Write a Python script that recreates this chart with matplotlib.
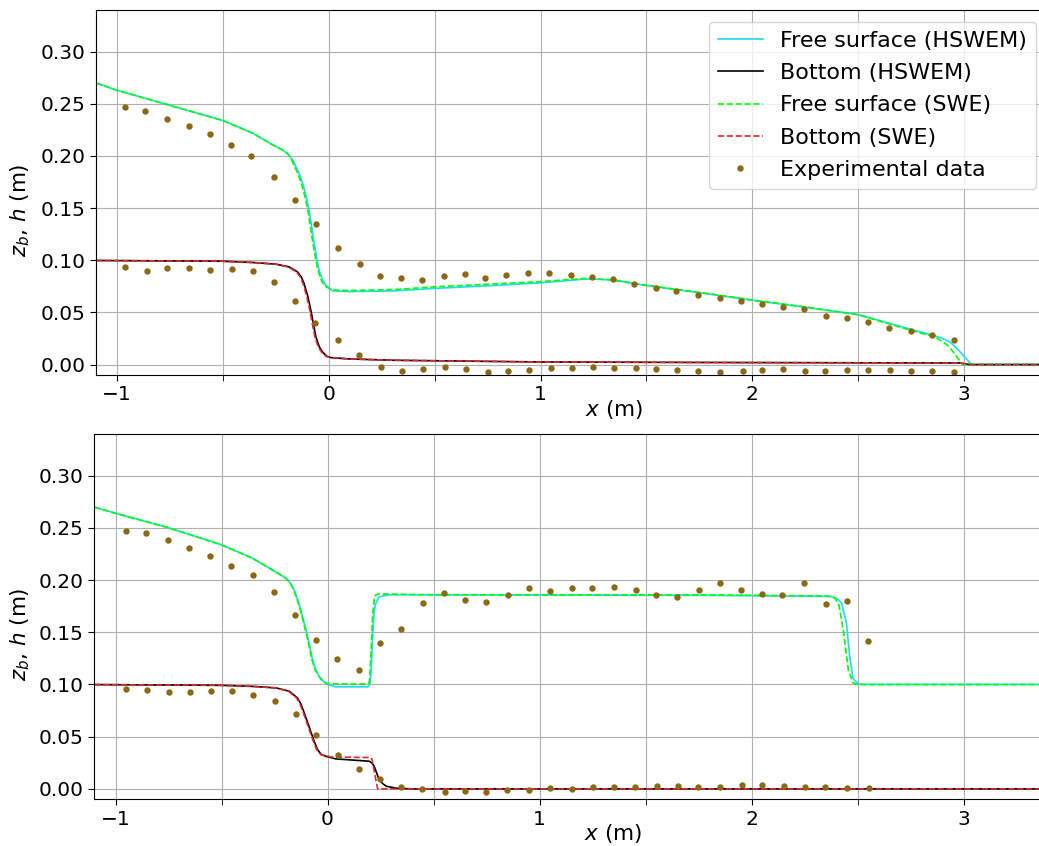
import matplotlib
matplotlib.use("Agg")
import matplotlib.pyplot as plt
from matplotlib.ticker import MultipleLocator, FormatStrFormatter

# ---- case 1: free surface / bottom profiles ----
top_hswem_eta_x = [-1.10, -1.00, -0.775, -0.50, -0.43, -0.358, -0.263, -0.22, -0.192, -0.17, -0.156, -0.14,
                   -0.124, -0.108, -0.093, -0.080, -0.069, -0.057, -0.046, -0.030, -0.014, 0.017,
                   0.096, 0.317, 0.498, 0.75, 0.997, 1.10, 1.201, 1.25, 1.343, 1.50, 1.80, 2.00,
                   2.25, 2.50, 2.697, 2.80, 2.855, 2.90, 2.934, 2.965, 2.997, 3.036, 3.36]
top_hswem_eta = [0.270, 0.263, 0.250, 0.234, 0.228, 0.2217, 0.2105, 0.206, 0.2018, 0.196, 0.190, 0.183,
                 0.174, 0.162, 0.148, 0.131, 0.116, 0.102, 0.0905, 0.081, 0.076, 0.0707,
                 0.070, 0.0707, 0.073, 0.0755, 0.0783, 0.080, 0.0819, 0.0820, 0.081, 0.0758, 0.0675, 0.0617,
                 0.055, 0.048, 0.0368, 0.031, 0.0281, 0.025, 0.0217, 0.016, 0.0089, 0.0, 0.0]

top_swe_eta_x = [-1.10, -1.00, -0.775, -0.50, -0.43, -0.358, -0.263, -0.22, -0.192, -0.175, -0.162, -0.146,
                 -0.130, -0.114, -0.099, -0.086, -0.075, -0.063, -0.051, -0.034, -0.016, 0.017,
                 0.096, 0.317, 0.498, 0.75, 0.997, 1.10, 1.201, 1.25, 1.343, 1.50, 1.80, 2.00,
                 2.25, 2.50, 2.697, 2.80, 2.855, 2.90, 2.93, 2.965, 2.99, 3.00, 3.36]
top_swe_eta = [0.270, 0.263, 0.250, 0.234, 0.228, 0.2217, 0.2105, 0.206, 0.2018, 0.196, 0.190, 0.183,
               0.174, 0.162, 0.148, 0.131, 0.116, 0.102, 0.0905, 0.080, 0.075, 0.0715,
               0.071, 0.072, 0.0745, 0.077, 0.0795, 0.081, 0.0825, 0.0822, 0.0812, 0.076, 0.0678, 0.062,
               0.0553, 0.0478, 0.0360, 0.0300, 0.0272, 0.022, 0.0175, 0.008, 0.001, 0.0, 0.0]

top_hswem_zb_x = [-1.10, -0.503, -0.361, -0.251, -0.188, -0.148, -0.13, -0.117, -0.10, -0.085,
                  -0.072, -0.061, -0.045, -0.030, -0.010, 0.009, 0.096, 0.316, 0.997, 1.80,
                  2.98, 3.03, 3.36]
top_hswem_zb = [0.0998, 0.0991, 0.0979, 0.0963, 0.0937, 0.0889, 0.084, 0.0777, 0.066, 0.0521,
                0.038, 0.0265, 0.017, 0.0121, 0.008, 0.0067, 0.0054, 0.0041, 0.0025, 0.002,
                0.0015, 0.0, 0.0]

top_swe_zb_x = [-1.10, -0.503, -0.361, -0.251, -0.193, -0.153, -0.135, -0.122, -0.105, -0.090,
                -0.077, -0.066, -0.050, -0.035, -0.014, 0.006, 0.096, 0.316, 0.997, 1.80,
                2.98, 3.03, 3.36]
top_swe_zb = [0.0998, 0.0991, 0.0979, 0.0963, 0.0937, 0.0889, 0.084, 0.0777, 0.066, 0.0521,
              0.038, 0.0265, 0.017, 0.0121, 0.008, 0.0067, 0.0054, 0.0041, 0.0025, 0.002,
              0.0015, 0.0, 0.0]

top_exp_eta_x = [-0.964, -0.868, -0.765, -0.663, -0.562, -0.460, -0.367, -0.261, -0.162, -0.060,
                 0.041, 0.146, 0.244, 0.343, 0.438, 0.545, 0.644, 0.740, 0.839, 0.943, 1.041,
                 1.144, 1.244, 1.343, 1.444, 1.545, 1.642, 1.743, 1.849, 1.946, 2.047, 2.146,
                 2.247, 2.348, 2.447, 2.547, 2.646, 2.750, 2.851, 2.955]
top_exp_eta = [0.247, 0.243, 0.235, 0.229, 0.221, 0.211, 0.200, 0.180, 0.158, 0.135,
               0.112, 0.096, 0.085, 0.0828, 0.081, 0.085, 0.0864, 0.0828, 0.086, 0.088, 0.088,
               0.086, 0.0838, 0.0819, 0.077, 0.0739, 0.071, 0.0668, 0.064, 0.061, 0.058, 0.055,
               0.053, 0.0467, 0.0451, 0.0409, 0.0348, 0.032, 0.0281, 0.024]

top_exp_zb_x = [-0.962, -0.861, -0.764, -0.661, -0.560, -0.458, -0.360, -0.261, -0.161, -0.065,
                0.044, 0.143, 0.246, 0.346, 0.444, 0.551, 0.647, 0.750, 0.846, 0.946, 1.049,
                1.148, 1.247, 1.349, 1.453, 1.546, 1.645, 1.745, 1.847, 1.955, 2.045, 2.144,
                2.250, 2.345, 2.447, 2.546, 2.651, 2.750, 2.850, 2.953]
top_exp_zb = [0.094, 0.090, 0.093, 0.093, 0.091, 0.092, 0.090, 0.079, 0.061, 0.040,
              0.024, 0.0092, -0.002, -0.006, -0.004, -0.002, -0.004, -0.007, -0.006, -0.005, -0.003,
              -0.003, -0.002, -0.003, -0.003, -0.004, -0.005, -0.006, -0.0074, -0.006, -0.005, -0.004,
              -0.006, -0.006, -0.005, -0.005, -0.005, -0.006, -0.006, -0.0074]

# ---- case 2: free surface / bottom profiles ----
bot_hswem_eta_x = [-1.10, -0.999, -0.755, -0.502, -0.354, -0.275, -0.197, -0.175, -0.158, -0.142,
                   -0.126, -0.110, -0.094, -0.071, -0.055, -0.040, -0.020, 0.0, 0.039, 0.189,
                   0.200, 0.206, 0.212, 0.218, 0.225, 0.243, 0.294, 1.80, 2.37, 2.40, 2.424,
                   2.447, 2.462, 2.478, 2.502, 2.53, 3.36]
bot_hswem_eta = [0.270, 0.264, 0.2505, 0.234, 0.221, 0.2116, 0.202, 0.197, 0.191, 0.182,
                 0.172, 0.159, 0.146, 0.124, 0.114, 0.108, 0.103, 0.0999, 0.0977, 0.0977,
                 0.0999, 0.115, 0.143, 0.165, 0.1765, 0.184, 0.186, 0.1854, 0.1844, 0.1829, 0.178,
                 0.159, 0.127, 0.106, 0.1005, 0.100, 0.100]

bot_swe_eta_x = [-1.10, -0.999, -0.755, -0.502, -0.354, -0.275, -0.197, -0.175, -0.160, -0.145,
                 -0.129, -0.113, -0.097, -0.074, -0.058, -0.043, -0.022, 0.0, 0.03, 0.19,
                 0.198, 0.205, 0.212, 0.222, 0.24, 0.50, 1.80, 2.36, 2.39, 2.41, 2.432,
                 2.456, 2.478, 2.50, 3.36]
bot_swe_eta = [0.270, 0.264, 0.2505, 0.234, 0.221, 0.2116, 0.202, 0.197, 0.191, 0.182,
               0.172, 0.159, 0.146, 0.124, 0.114, 0.108, 0.103, 0.101, 0.1005, 0.1005,
               0.103, 0.130, 0.165, 0.185, 0.1867, 0.186, 0.1858, 0.1848, 0.183, 0.178, 0.1525,
               0.114, 0.1015, 0.100, 0.100]

bot_hswem_zb_x = [-1.10, -0.502, -0.354, -0.242, -0.180, -0.142, -0.125, -0.110, -0.093, -0.077,
                  -0.062, -0.047, -0.030, -0.008, 0.039, 0.196, 0.208, 0.220, 0.232, 0.243,
                  0.260, 0.277, 0.324, 0.40, 3.36]
bot_hswem_zb = [0.0999, 0.0992, 0.0982, 0.0967, 0.0935, 0.0871, 0.081, 0.0728, 0.063, 0.0536,
                0.045, 0.0376, 0.033, 0.0312, 0.0287, 0.0265, 0.025, 0.0217, 0.015, 0.0089,
                0.005, 0.0025, 0.0006, 0.0, 0.0]

bot_swe_zb_x = [-1.10, -0.502, -0.354, -0.242, -0.184, -0.146, -0.129, -0.114, -0.097, -0.081,
                -0.066, -0.051, -0.033, -0.010, 0.02, 0.204, 0.210, 0.236, 3.36]
bot_swe_zb = [0.0999, 0.0992, 0.0982, 0.0967, 0.0935, 0.0871, 0.081, 0.0728, 0.063, 0.0536,
              0.045, 0.0376, 0.033, 0.0315, 0.0305, 0.030, 0.028, 0.0, 0.0]

bot_exp_eta_x = [-0.950, -0.854, -0.753, -0.653, -0.554, -0.455, -0.351, -0.253, -0.153, -0.055,
                 0.045, 0.148, 0.248, 0.347, 0.448, 0.547, 0.649, 0.748, 0.849, 0.948, 1.050,
                 1.153, 1.248, 1.349, 1.453, 1.549, 1.649, 1.751, 1.850, 1.950, 2.049, 2.144,
                 2.245, 2.349, 2.451, 2.549]
bot_exp_eta = [0.247, 0.245, 0.238, 0.231, 0.223, 0.214, 0.205, 0.189, 0.167, 0.143,
               0.124, 0.114, 0.140, 0.153, 0.178, 0.188, 0.181, 0.179, 0.186, 0.192, 0.190,
               0.192, 0.192, 0.193, 0.191, 0.186, 0.184, 0.191, 0.197, 0.191, 0.187, 0.186,
               0.197, 0.177, 0.180, 0.142]

bot_exp_zb_x = [-0.950, -0.851, -0.750, -0.648, -0.551, -0.451, -0.352, -0.250, -0.151, -0.054,
                0.050, 0.149, 0.248, 0.347, 0.446, 0.555, 0.649, 0.748, 0.847, 0.951, 1.049,
                1.151, 1.251, 1.349, 1.448, 1.552, 1.651, 1.748, 1.850, 1.954, 2.050, 2.151,
                2.250, 2.347, 2.450, 2.555]
bot_exp_zb = [0.096, 0.095, 0.093, 0.093, 0.094, 0.094, 0.090, 0.084, 0.072, 0.052,
              0.032, 0.019, 0.009, 0.002, 0.0, -0.003, -0.002, -0.003, -0.001, -0.001, 0.001,
              0.0, 0.002, 0.002, 0.002, 0.003, 0.003, 0.002, 0.002, 0.004, 0.004, 0.003,
              0.002, 0.002, 0.001, 0.001]

CYAN = "#1fdcf2"
GREEN = "#00ff00"
RED = "#e3262a"
BROWN = "#8b6914"

plt.rcParams["font.family"] = "DejaVu Sans"
plt.rcParams["mathtext.fontset"] = "dejavusans"

fig = plt.figure(figsize=(10.39, 8.46), dpi=100)
ax_top = fig.add_axes([96 / 1039, 1 - 375 / 846, 943 / 1039, 365 / 846])
ax_bot = fig.add_axes([94.3 / 1039, 1 - 799.3 / 846, 944.7 / 1039, 365.3 / 846])

panels = [
    (ax_top, top_hswem_eta_x, top_hswem_eta, top_hswem_zb_x, top_hswem_zb,
     top_swe_eta_x, top_swe_eta, top_swe_zb_x, top_swe_zb,
     top_exp_eta_x, top_exp_eta, top_exp_zb_x, top_exp_zb),
    (ax_bot, bot_hswem_eta_x, bot_hswem_eta, bot_hswem_zb_x, bot_hswem_zb,
     bot_swe_eta_x, bot_swe_eta, bot_swe_zb_x, bot_swe_zb,
     bot_exp_eta_x, bot_exp_eta, bot_exp_zb_x, bot_exp_zb),
]

for (ax, hex_, hey, hzx, hzy, sex, sey, szx, szy, eex, eey, ezx, ezy) in panels:
    ax.plot(hex_, hey, color=CYAN, lw=1.2, label="Free surface (HSWEM)")
    ax.plot(hzx, hzy, color="black", lw=1.2, label="Bottom (HSWEM)")
    ax.plot(sex, sey, color=GREEN, lw=1.2, ls="--", label="Free surface (SWE)")
    ax.plot(szx, szy, color=RED, lw=1.2, ls="--", label="Bottom (SWE)")
    ax.plot(eex, eey, ls="none", marker="o", ms=4.6, mew=0, color=BROWN, label="Experimental data")
    ax.plot(ezx, ezy, ls="none", marker="o", ms=4.6, mew=0, color=BROWN)

    ax.set_xlim(-1.1, 3.355)
    ax.set_ylim(-0.01, 0.34)
    ax.xaxis.set_major_locator(MultipleLocator(1))
    ax.xaxis.set_minor_locator(MultipleLocator(0.5))
    ax.set_yticks([0.0, 0.05, 0.10, 0.15, 0.20, 0.25, 0.30])
    ax.yaxis.set_major_formatter(FormatStrFormatter("%.2f"))
    ax.tick_params(axis="both", which="major", labelsize=14.5, length=4)
    ax.tick_params(axis="x", which="minor", length=4)
    ax.grid(True, which="both", color="#b0b0b0", lw=0.8)
    ax.spines["right"].set_visible(False)

    ax.set_xlabel(r"$x$ (m)", fontsize=15.5)
    ax.set_ylabel(r"$z_b$, $h$ (m)", fontsize=15.5)
    ax.xaxis.set_label_coords(0.549, -0.062)

ax_top.yaxis.set_label_coords(-0.068, 0.45)
ax_bot.yaxis.set_label_coords(-0.066, 0.452)

ax_top.legend(loc="upper right", bbox_to_anchor=(0.997, 0.967), borderaxespad=0,
              fontsize=16, labelspacing=0.55)

fig.savefig("out.png", dpi=100)
plt.close(fig)
